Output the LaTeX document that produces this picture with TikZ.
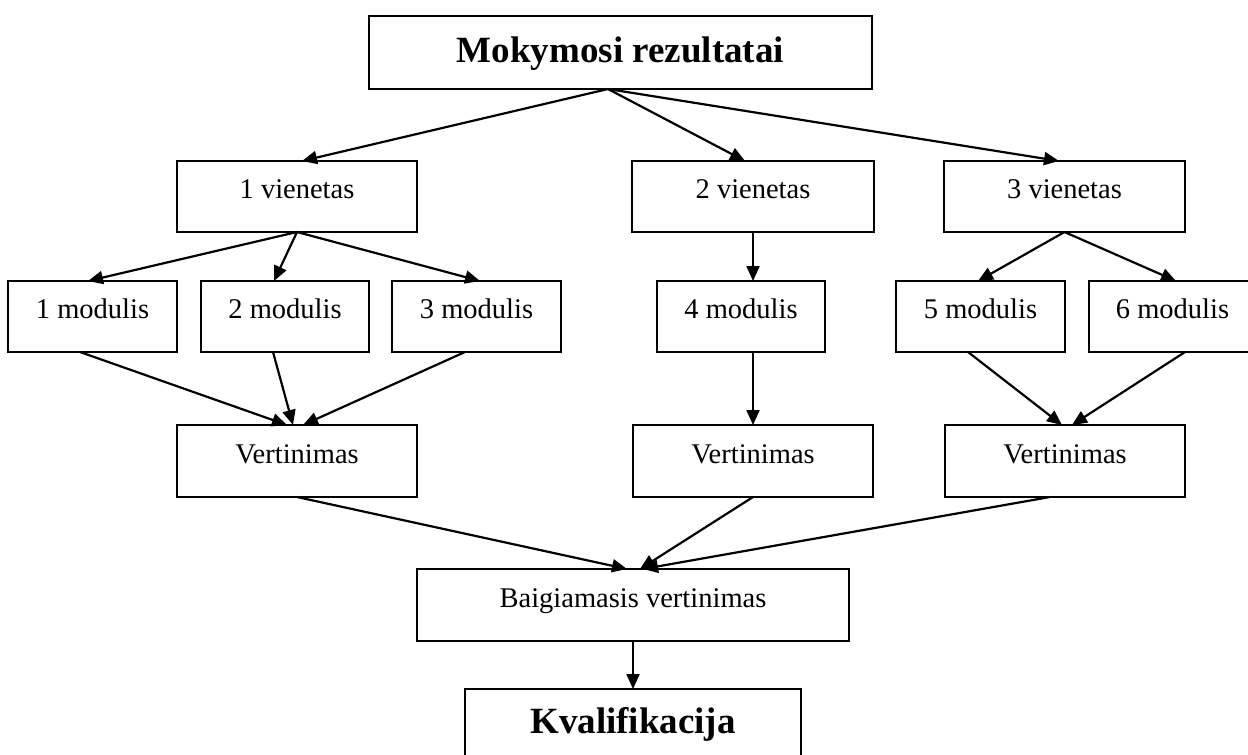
\documentclass[tikz,border=0pt]{standalone}
\usepackage{fontspec}
\setmainfont{Liberation Serif}
\usetikzlibrary{arrows.meta}
\tikzset{
  box/.style={draw, line width=2.2pt, rectangle, inner xsep=0pt, inner ysep=0pt, outer sep=0pt, anchor=north, align=center},
  small/.style={font=\fontsize{28.5}{34}\selectfont, text height=37pt},
  big/.style={font=\fontsize{37}{44}\selectfont\bfseries},
  arr/.style={line width=2.2pt, -{Triangle[length=15pt,width=13pt]}}
}
\begin{document}
\begin{tikzpicture}[x=1pt,y=-1pt]
\useasboundingbox (0,0) rectangle (1248,755);
\clip (0,0) rectangle (1248,755);
% top
\node[box, big, text height=46pt, text depth=27pt, minimum width=503pt] (top) at (620.5,16) {Mokymosi rezultatai};
% vienetai
\node[box, small, text depth=34pt, minimum width=240pt] (v1) at (297,161) {1 vienetas};
\node[box, small, text depth=34pt, minimum width=242pt] (v2) at (753,161) {2 vienetas};
\node[box, small, text depth=34pt, minimum width=241pt] (v3) at (1064.5,161) {3 vienetas};
% moduliai
\node[box, small, text depth=34pt, minimum width=169pt] (m1) at (92.5,281) {1 modulis};
\node[box, small, text depth=34pt, minimum width=168pt] (m2) at (285,281) {2 modulis};
\node[box, small, text depth=34pt, minimum width=169pt] (m3) at (476.5,281) {3 modulis};
\node[box, small, text depth=34pt, minimum width=168pt] (m4) at (741,281) {4 modulis};
\node[box, small, text depth=34pt, minimum width=169pt] (m5) at (980.5,281) {5 modulis};
\node[box, small, text depth=34pt, minimum width=167pt] (m6) at (1172.5,281) {6 modulis};
% vertinimai
\node[box, small, text height=38pt, text depth=34pt, minimum width=240pt] (e1) at (297,425) {Vertinimas};
\node[box, small, text height=38pt, text depth=34pt, minimum width=240pt] (e2) at (753,425) {Vertinimas};
\node[box, small, text height=38pt, text depth=34pt, minimum width=240pt] (e3) at (1065,425) {Vertinimas};
% baigiamasis
\node[box, small, text height=38pt, text depth=34pt, minimum width=432pt] (b) at (633,569) {Baigiamasis vertinimas};
% kvalifikacija
\node[box, big, text height=44pt, text depth=37pt, minimum width=336pt] (k) at (633,689) {Kvalifikacija};
% arrows
\draw[arr] ([xshift=-12.5pt]top.south) -- ([xshift=5pt]v1.north);
\draw[arr] ([xshift=-12.5pt]top.south) -- ([xshift=-8pt]v2.north);
\draw[arr] ([xshift=-12.5pt]top.south) -- ([xshift=-5.5pt]v3.north);
\draw[arr] (v1.south) -- ([xshift=-4.5pt]m1.north);
\draw[arr] (v1.south) -- ([xshift=-11pt]m2.north);
\draw[arr] (v1.south) -- ([xshift=3.5pt]m3.north);
\draw[arr] (v2.south) -- ([xshift=12pt]m4.north);
\draw[arr] (v3.south) -- ([xshift=-2.5pt]m5.north);
\draw[arr] (v3.south) -- ([xshift=3.5pt]m6.north);
\draw[arr] ([xshift=-12.5pt]m1.south) -- ([xshift=-10pt]e1.north);
\draw[arr] ([xshift=-12pt]m2.south) -- ([xshift=-4pt]e1.north);
\draw[arr] ([xshift=-11.5pt]m3.south) -- ([xshift=6pt]e1.north);
\draw[arr] ([xshift=12pt]m4.south) -- (e2.north);
\draw[arr] ([xshift=-12.5pt]m5.south) -- ([xshift=-3pt]e3.north);
\draw[arr] ([xshift=12.5pt]m6.south) -- ([xshift=7pt]e3.north);
\draw[arr] (e1.south) -- ([xshift=-6pt]b.north);
\draw[arr] (e2.south) -- ([xshift=7pt]b.north);
\draw[arr] ([xshift=-15pt]e3.south) -- ([xshift=10pt]b.north);
\draw[arr] (b.south) -- (k.north);
\end{tikzpicture}
\end{document}
